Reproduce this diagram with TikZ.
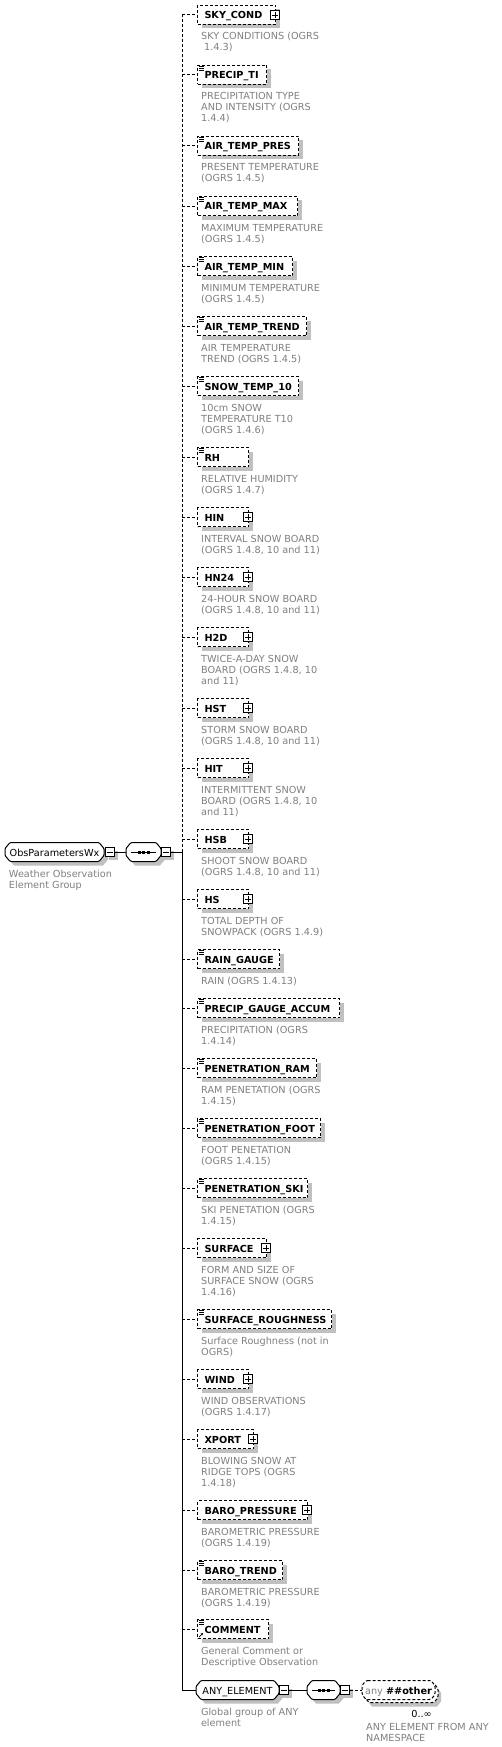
\documentclass[tikz,border=0pt]{standalone}
\usepackage{fontspec}
\setmainfont{DejaVu Sans}
\usetikzlibrary{shadows,arrows.meta,calc}
\definecolor{descgray}{RGB}{128,128,128}
\definecolor{shadowgray}{RGB}{192,192,192}
\newcommand\dl[1]{\begin{tabular}[t]{@{}l@{}}#1\end{tabular}}
\newcommand\Elem[5]{%
  \node[elbox, text width=#3pt] (#1) at (197,#2) {#4};
  \draw[dsh] (trunk |- #1.west) -- (#1.west);
  \node[desc] (#1-d) at ([shift={(4pt,-25pt)}]#1.west) {\dl{#5}};
}
\newcommand\addplus[1]{\node[plusicon] (#1-p) at ([xshift=-1pt]#1.east) {};}
\newcommand\addlines[1]{\foreach \k in {1.3,3.3,5.3}{\draw[line width=0.7pt] ([xshift=1.5pt,yshift=-\k pt]#1.north west) -- ++(5pt,0pt);}}
\newcommand\seqicon[1]{%
  \draw[line width=1pt] ([xshift=5pt]#1.west) -- ([xshift=-5pt]#1.east);
  \foreach \dx in {-4.5,0,4.5}{\fill ([xshift=\dx pt]#1.center) ++(-1.5pt,-1.5pt) rectangle ++(3pt,3pt);}
}
% octagon outline: centre x, centre y, width, chamfer x, chamfer y
\newcommand\octp[5]{({#1-#3/2+#4},{#2-9.5}) -- ({#1+#3/2-#4},{#2-9.5}) -- ({#1+#3/2},{#2-9.5+#5}) -- ({#1+#3/2},{#2+9.5-#5}) -- ({#1+#3/2-#4},{#2+9.5}) -- ({#1-#3/2+#4},{#2+9.5}) -- ({#1-#3/2},{#2+9.5-#5}) -- ({#1-#3/2},{#2-9.5+#5}) -- cycle}
\newcommand\octnode[5]{% name, cx, cy, width, text
  \fill[shadowgray, shift={(4pt,-4pt)}] \octp{#2}{#3}{#4}{5}{6};
  \draw[line width=1pt, fill=white, rounded corners=1pt] \octp{#2}{#3}{#4}{5}{6};
  \node[octlabel, minimum width=#4pt] (#1) at (#2,#3) {#5};
}
\begin{document}
\begin{tikzpicture}[x=1pt,y=-1pt, font=\fontsize{9.7}{11}\selectfont,
  dsh/.style={line width=1pt, dash pattern=on 3pt off 2pt},
  elbox/.style={draw, line width=1pt, dash pattern=on 3pt off 2pt, fill=white,
    minimum height=19pt, inner xsep=7pt, inner ysep=0pt, text height=8pt, text depth=0pt,
    align=left, anchor=west, font=\fontsize{9.7}{11}\selectfont\bfseries,
    general shadow={fill=shadowgray, shadow xshift=4pt, shadow yshift=-4pt}},
  desc/.style={anchor=base west, inner sep=0pt, text=descgray},
  pmicon/.style={draw, solid, fill=white, line width=0.8pt, minimum size=9pt, inner sep=0pt, shape=rectangle},
  plusicon/.style={pmicon, path picture={\draw[line width=0.8pt]
      ([xshift=-3pt]path picture bounding box.center) -- ([xshift=3pt]path picture bounding box.center)
      ([yshift=-3pt]path picture bounding box.center) -- ([yshift=3pt]path picture bounding box.center);}},
  minusicon/.style={pmicon, general shadow={fill=shadowgray, shadow xshift=3pt, shadow yshift=-3pt},
    path picture={\draw[line width=0.8pt]
      ([xshift=-3pt]path picture bounding box.center) -- ([xshift=3pt]path picture bounding box.center);}},
  octlabel/.style={rectangle, minimum height=19pt, inner sep=0pt, text height=8pt, text depth=0pt}
]
\fill[white] (0,0) rectangle (502,1747);
\useasboundingbox (0,0) rectangle (502,1747);
\coordinate (trunk) at (182,852);

\Elem{skycond}{15}{64}{SKY\_COND}{SKY CONDITIONS (OGRS\\\hspace*{3pt}1.4.3)}\addplus{skycond}
\Elem{precipti}{75}{55}{PRECIP\_TI}{PRECIPITATION TYPE\\AND INTENSITY (OGRS\\1.4.4)}\addlines{precipti}
\Elem{atpres}{146}{87}{AIR\_TEMP\_PRES}{PRESENT TEMPERATURE\\(OGRS 1.4.5)}\addlines{atpres}
\Elem{atmax}{206}{86}{AIR\_TEMP\_MAX}{MAXIMUM TEMPERATURE\\(OGRS 1.4.5)}\addlines{atmax}
\Elem{atmin}{266}{81}{AIR\_TEMP\_MIN}{MINIMUM TEMPERATURE\\(OGRS 1.4.5)}\addlines{atmin}
\Elem{attrend}{326}{95}{AIR\_TEMP\_TREND}{AIR TEMPERATURE\\TREND (OGRS 1.4.5)}\addlines{attrend}
\Elem{snowt}{386}{87}{SNOW\_TEMP\_10}{10cm SNOW\\TEMPERATURE T10\\(OGRS 1.4.6)}\addlines{snowt}
\Elem{rh}{457}{37}{RH}{RELATIVE HUMIDITY\\(OGRS 1.4.7)}\addlines{rh}
\Elem{hin}{517}{37}{HIN}{INTERVAL SNOW BOARD\\(OGRS 1.4.8, 10 and 11)}\addplus{hin}
\Elem{hn24}{577}{37}{HN24}{24-HOUR SNOW BOARD\\(OGRS 1.4.8, 10 and 11)}\addplus{hn24}
\Elem{h2d}{637}{37}{H2D}{TWICE-A-DAY SNOW\\BOARD (OGRS 1.4.8, 10\\and 11)}\addplus{h2d}
\Elem{hst}{708}{37}{HST}{STORM SNOW BOARD\\(OGRS 1.4.8, 10 and 11)}\addplus{hst}
\Elem{hit}{768}{37}{HIT}{INTERMITTENT SNOW\\BOARD (OGRS 1.4.8, 10\\and 11)}\addplus{hit}
\Elem{hsb}{839}{37}{HSB}{SHOOT SNOW BOARD\\(OGRS 1.4.8, 10 and 11)}\addplus{hsb}
\Elem{hs}{899}{37}{HS}{TOTAL DEPTH OF\\SNOWPACK (OGRS 1.4.9)}\addplus{hs}
\Elem{rain}{959}{68}{RAIN\_GAUGE}{RAIN (OGRS 1.4.13)}\addlines{rain}
\Elem{pga}{1008}{128}{PRECIP\_GAUGE\_ACCUM}{PRECIPITATION (OGRS\\1.4.14)}\addlines{pga}
\Elem{pram}{1068}{105}{PENETRATION\_RAM}{RAM PENETATION (OGRS\\1.4.15)}\addlines{pram}
\Elem{pfoot}{1128}{109}{PENETRATION\_FOOT}{FOOT PENETATION\\(OGRS 1.4.15)}\addlines{pfoot}
\Elem{pski}{1188}{96}{PENETRATION\_SKI}{SKI PENETATION (OGRS\\1.4.15)}\addlines{pski}
\Elem{surf}{1248}{55}{SURFACE}{FORM AND SIZE OF\\SURFACE SNOW (OGRS\\1.4.16)}\addplus{surf}
\Elem{surfr}{1319}{120}{SURFACE\_ROUGHNESS}{Surface Roughness (not in\\OGRS)}\addlines{surfr}
\Elem{wind}{1379}{37}{WIND}{WIND OBSERVATIONS\\(OGRS 1.4.17)}\addplus{wind}
\Elem{xport}{1439}{42}{XPORT}{BLOWING SNOW AT\\RIDGE TOPS (OGRS\\1.4.18)}\addplus{xport}
\Elem{barop}{1510}{96}{BARO\_PRESSURE}{BAROMETRIC PRESSURE\\(OGRS 1.4.19)}\addplus{barop}
\Elem{barot}{1570}{71}{BARO\_TREND}{BAROMETRIC PRESSURE\\(OGRS 1.4.19)}\addlines{barot}
\Elem{comment}{1629}{57}{COMMENT}{General Comment or\\Descriptive Observation}\addlines{comment}
\draw[line width=0.7pt, -{Stealth[length=2.5pt,width=2.5pt]}] ([shift={(2pt,2pt)}]comment.south west) -- ++(4pt,4pt);

% root and sequence
\octnode{obs}{54.5}{852}{99}{ObsParametersWx}
\node[minusicon] (obs-m) at ([xshift=6pt]obs.east) {};
\node[desc] (obs-d) at ([shift={(4pt,-25pt)}]obs.west) {\dl{Weather Observation\\Element Group}};
\octnode{seq1}{143.5}{852}{35}{}
\seqicon{seq1}
\node[minusicon] (seq1-m) at ([xshift=5pt]seq1.east) {};
\draw[line width=1pt] (obs-m.east) -- (seq1.west);
\draw[line width=1pt] (seq1-m.east) -- (trunk);

% any element group
\octnode{anyel}{237.5}{1690}{83}{ANY\_ELEMENT}
\node[minusicon] (anyel-m) at ([xshift=5pt]anyel.east) {};
\node[desc] (anyel-d) at ([shift={(5pt,-25pt)}]anyel.west) {\dl{Global group of ANY\\element}};
\octnode{seq2}{323.5}{1690}{33}{}
\seqicon{seq2}
\node[minusicon] (seq2-m) at ([xshift=5pt]seq2.east) {};
% any wildcard: shadow, stacked back box, front box
\fill[shadowgray, shift={(6pt,-7pt)}] \octp{398.5}{1690}{73}{4}{5};
\draw[dsh, fill=white, rounded corners=1.5pt, shift={(3pt,-3pt)}] \octp{398.5}{1690}{73}{4}{5};
\draw[dsh, fill=white, rounded corners=1.5pt] \octp{398.5}{1690}{73}{4}{5};
\node[octlabel, minimum width=73pt] (anyo) at (398.5,1690) {\textcolor{descgray}{any}\ \textbf{\#\#other}};
\node[anchor=base east, inner sep=0pt] (mult) at (432,1717) {0..∞};
\node[desc] (anyo-d) at (366,1730) {\dl{ANY ELEMENT FROM ANY\\NAMESPACE}};
\draw[line width=1pt] (anyel-m.east) -- (seq2.west);
\draw[dsh] (seq2-m.east) -- (anyo.west);

% trunk
\draw[dsh] (trunk) -- (trunk |- skycond.west);
\draw[line width=1pt] (trunk) -- (trunk |- anyel.west) -- (anyel.west);
\end{tikzpicture}
\end{document}
